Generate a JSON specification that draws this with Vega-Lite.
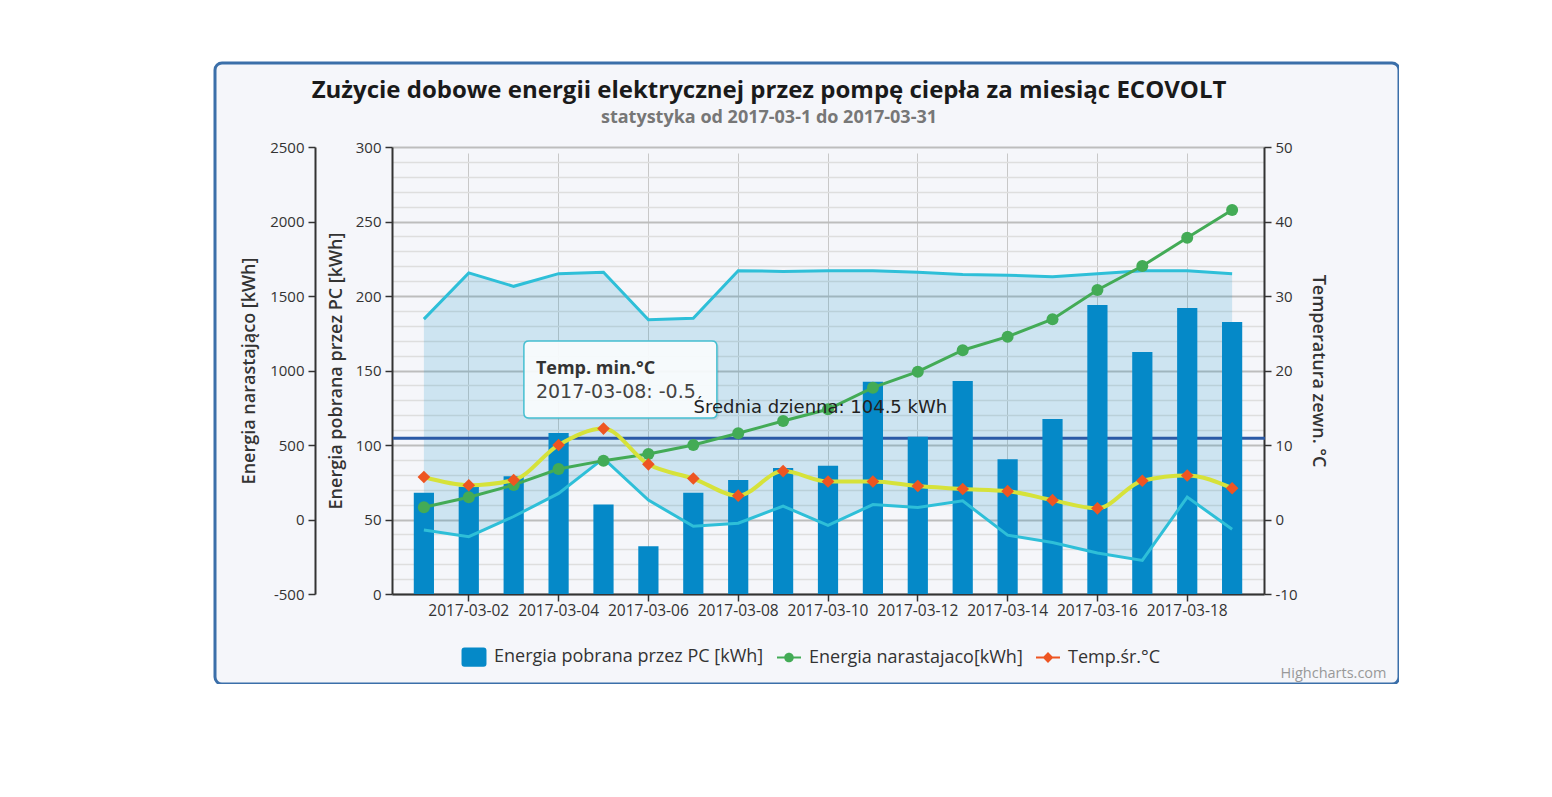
{
  "$schema": "https://vega.github.io/schema/vega-lite/v6.json",
  "width": 1184,
  "height": 621,
  "autosize": "none",
  "padding": {"left": 215, "top": 63, "right": 0, "bottom": 0},
  "background": "white",
  "title": {
    "text": "Zużycie dobowe energii elektrycznej przez pompę ciepła za miesiąc ECOVOLT",
    "subtitle": "statystyka od 2017-03-1 do 2017-03-31",
    "anchor": "middle",
    "frame": "group",
    "offset": -64,
    "dx": -38,
    "font": "Open Sans",
    "fontSize": 24,
    "fontWeight": "bold",
    "color": "#1a1a1a",
    "subtitleFont": "Open Sans",
    "subtitleFontSize": 18,
    "subtitleFontWeight": "bold",
    "subtitleColor": "#777777",
    "subtitlePadding": 6
  },
  "data": {
    "values": [
      {"date": "2017-03-01", "energy": 68, "cumul": 82, "tavg": 5.7, "tmin": -1.4, "tmax": 26.9},
      {"date": "2017-03-02", "energy": 72, "cumul": 149, "tavg": 4.6, "tmin": -2.3, "tmax": 33.1},
      {"date": "2017-03-03", "energy": 79, "cumul": 232, "tavg": 5.3, "tmin": 0.4, "tmax": 31.3},
      {"date": "2017-03-04", "energy": 108, "cumul": 339, "tavg": 10.0, "tmin": 3.5, "tmax": 33.0},
      {"date": "2017-03-05", "energy": 60, "cumul": 395, "tavg": 12.2, "tmin": 8.2, "tmax": 33.2},
      {"date": "2017-03-06", "energy": 32, "cumul": 440, "tavg": 7.4, "tmin": 2.6, "tmax": 26.8},
      {"date": "2017-03-07", "energy": 68, "cumul": 500, "tavg": 5.5, "tmin": -0.9, "tmax": 27.0},
      {"date": "2017-03-08", "energy": 76.5, "cumul": 579, "tavg": 3.2, "tmin": -0.5, "tmax": 33.4},
      {"date": "2017-03-09", "energy": 84.5, "cumul": 661, "tavg": 6.5, "tmin": 1.8, "tmax": 33.3},
      {"date": "2017-03-10", "energy": 86, "cumul": 740, "tavg": 5.1, "tmin": -0.8, "tmax": 33.4},
      {"date": "2017-03-11", "energy": 142.5, "cumul": 885, "tavg": 5.1, "tmin": 2.0, "tmax": 33.4},
      {"date": "2017-03-12", "energy": 105.5, "cumul": 992, "tavg": 4.5, "tmin": 1.6, "tmax": 33.2},
      {"date": "2017-03-13", "energy": 143, "cumul": 1136, "tavg": 4.1, "tmin": 2.5, "tmax": 32.9},
      {"date": "2017-03-14", "energy": 90.5, "cumul": 1227, "tavg": 3.8, "tmin": -2.1, "tmax": 32.8},
      {"date": "2017-03-15", "energy": 117.5, "cumul": 1344, "tavg": 2.6, "tmin": -3.1, "tmax": 32.6},
      {"date": "2017-03-16", "energy": 194, "cumul": 1540, "tavg": 1.5, "tmin": -4.5, "tmax": 33.0},
      {"date": "2017-03-17", "energy": 162.5, "cumul": 1701, "tavg": 5.2, "tmin": -5.5, "tmax": 33.4},
      {"date": "2017-03-18", "energy": 192, "cumul": 1891, "tavg": 5.9, "tmin": 3.0, "tmax": 33.4},
      {"date": "2017-03-19", "energy": 182.5, "cumul": 2077, "tavg": 4.2, "tmin": -1.3, "tmax": 33.0}
    ]
  },
  "encoding": {
    "x": {
      "field": "date",
      "type": "ordinal",
      "scale": {"type": "band", "range": [177, 1049], "paddingInner": 0.55, "paddingOuter": 0.485},
      "axis": {
        "orient": "bottom",
        "offset": -90,
        "values": ["2017-03-02", "2017-03-04", "2017-03-06", "2017-03-08", "2017-03-10", "2017-03-12", "2017-03-14", "2017-03-16", "2017-03-18"],
        "bandPosition": 0.5,
        "labelAngle": 0,
        "labelPadding": 2,
        "labelFontSize": 15.5,
        "tickSize": 7,
        "grid": true,
        "gridColor": "#c8c8c8",
        "gridWidth": 1,
        "title": "Highcharts.com",
        "titleX": 1171,
        "titleY": 83,
        "titleAlign": "right",
        "titleBaseline": "alphabetic",
        "titleFontWeight": "normal",
        "titleFontSize": 14.5,
        "titleColor": "#999999"
      }
    }
  },
  "layer": [
    {
      "mark": {"type": "area", "fill": "#0a8cc6", "fillOpacity": 0.17},
      "encoding": {
        "y": {"field": "tmax", "type": "quantitative", "scale": {"domain": [-10, 50], "range": [531, 84], "nice": false, "zero": false}, "axis": null},
        "y2": {"field": "tmin"}
      }
    },
    {
      "data": {"values": [{}]},
      "mark": {"type": "tick", "orient": "horizontal", "color": "#2b5aa6", "opacity": 1, "size": 872, "thickness": 3, "xOffset": 0.9},
      "encoding": {
        "x": {"datum": "2017-03-10", "type": "ordinal"},
        "y": {"datum": 104.5, "type": "quantitative", "scale": {"domain": [0, 300], "range": [531, 84], "nice": false, "zero": false}, "axis": null}
      }
    },
    {
      "mark": {"type": "bar"},
      "encoding": {
        "y": {
          "field": "energy",
          "type": "quantitative",
          "scale": {"domain": [0, 300], "range": [531, 84], "nice": false, "zero": false},
          "axis": {
            "orient": "left",
            "offset": -177,
            "values": [0, 10, 20, 30, 40, 50, 60, 70, 80, 90, 100, 110, 120, 130, 140, 150, 160, 170, 180, 190, 200, 210, 220, 230, 240, 250, 260, 270, 280, 290, 300],
            "labelExpr": "datum.value % 50 === 0 ? '' + datum.value : ''",
            "tickOpacity": {"condition": {"test": "datum.value % 50 === 0", "value": 1}, "value": 0},
            "grid": true,
            "gridColor": {"condition": {"test": "datum.value % 50 === 0", "value": "#bdbdbd"}, "value": "#dedede"},
            "gridWidth": {"condition": {"test": "datum.value % 50 === 0", "value": 2}, "value": 1.5},
            "title": "Energia pobrana przez PC [kWh]",
            "titlePadding": 10,
            "tickSize": 7,
            "labelPadding": 4
          }
        },
        "color": {
          "datum": "Energia pobrana przez PC [kWh]",
          "type": "nominal",
          "scale": {
            "domain": ["Energia pobrana przez PC [kWh]", "Energia narastajaco[kWh]", "Temp.śr.°C"],
            "range": ["#0589c8", "#43ab56", "#ee5522"]
          },
          "legend": {
            "orient": "none",
            "legendX": 247,
            "legendY": 582,
            "direction": "horizontal",
            "title": null,
            "labelFont": "Open Sans",
            "labelFontSize": 18,
            "labelColor": "#333333",
            "labelLimit": 400,
            "symbolSize": 576,
            "labelOffset": 8,
            "columnPadding": 13,
            "padding": 0,
            "symbolStrokeWidth": 0,
            "symbolOpacity": 1,
            "encode": {
              "symbols": {
                "update": {
                  "shape": {"signal": "datum.value === 'Energia pobrana przez PC [kWh]' ? 'M-0.79,-0.8H0.79Q1.04,-0.8 1.04,-0.55V0.55Q1.04,0.8 0.79,0.8H-0.79Q-1.04,0.8 -1.04,0.55V-0.55Q-1.04,-0.8 -0.79,-0.8Z' : datum.value === 'Energia narastajaco[kWh]' ? 'M-1,-0.09H1V0.09H-1Z M0.4,0A0.4,0.4 0 1,1 -0.4,0A0.4,0.4 0 1,1 0.4,0Z' : 'M-1,-0.09H1V0.09H-1Z M0,-0.45L0.45,0L0,0.45L-0.45,0Z'"}
                }
              }
            }
          }
        }
      }
    },
    {
      "mark": {"type": "line", "color": "#2ebfd8", "strokeWidth": 3},
      "encoding": {
        "y": {"field": "tmin", "type": "quantitative", "scale": {"domain": [-10, 50], "range": [531, 84], "nice": false, "zero": false}, "axis": null}
      }
    },
    {
      "mark": {"type": "line", "color": "#2ebfd8", "strokeWidth": 3},
      "encoding": {
        "y": {"field": "tmax", "type": "quantitative", "scale": {"domain": [-10, 50], "range": [531, 84], "nice": false, "zero": false}, "axis": null}
      }
    },
    {
      "mark": {"type": "line", "color": "#43ab56", "strokeWidth": 3, "point": {"filled": true, "size": 144, "color": "#43ab56", "opacity": 1}},
      "encoding": {
        "y": {
          "field": "cumul",
          "type": "quantitative",
          "scale": {"domain": [-500, 2500], "range": [531, 84], "nice": false, "zero": false},
          "axis": {
            "orient": "left",
            "offset": -100,
            "values": [-500, 0, 500, 1000, 1500, 2000, 2500],
            "labelExpr": "'' + datum.value",
            "grid": false,
            "title": "Energia narastająco [kWh]",
            "titlePadding": 11,
            "tickSize": 7,
            "labelPadding": 4
          }
        }
      }
    },
    {
      "mark": {"type": "line", "color": "#d6e23a", "strokeWidth": 4, "interpolate": "monotone"},
      "encoding": {
        "y": {
          "field": "tavg",
          "type": "quantitative",
          "scale": {"domain": [-10, 50], "range": [531, 84], "nice": false, "zero": false},
          "axis": {
            "orient": "right",
            "offset": -135,
            "values": [-10, 0, 10, 20, 30, 40, 50],
            "labelExpr": "'' + datum.value",
            "grid": false,
            "title": "Temperatura zewn. °C",
            "titlePadding": 12,
            "tickSize": 7,
            "labelPadding": 4
          }
        }
      }
    },
    {
      "mark": {"type": "point", "shape": "diamond", "filled": true, "color": "#ee5522", "size": 160, "opacity": 1},
      "encoding": {
        "y": {"field": "tavg", "type": "quantitative", "scale": {"domain": [-10, 50], "range": [531, 84], "nice": false, "zero": false}, "axis": null}
      }
    },
    {
      "data": {"values": [{}]},
      "mark": {"type": "point", "shape": "M-0.948,-0.399H0.948Q1,-0.399 1,-0.347V0.347Q1,0.399 0.948,0.399H-0.948Q-1,0.399 -1,0.347V-0.347Q-1,-0.399 -0.948,-0.399Z", "size": 37249, "filled": true, "fill": "#000000", "opacity": 0.08, "strokeWidth": 0, "xOffset": 18.9, "yOffset": 2},
      "encoding": {
        "x": {"datum": "2017-03-05", "type": "ordinal"},
        "y": {"datum": 144, "type": "quantitative", "scale": {"domain": [0, 300], "range": [531, 84], "nice": false, "zero": false}, "axis": null}
      }
    },
    {
      "data": {"values": [{}]},
      "mark": {"type": "point", "shape": "M-0.948,-0.399H0.948Q1,-0.399 1,-0.347V0.347Q1,0.399 0.948,0.399H-0.948Q-1,0.399 -1,0.347V-0.347Q-1,-0.399 -0.948,-0.399Z", "size": 37249, "filled": true, "fill": "#fbfdfe", "fillOpacity": 0.93, "stroke": "#45bfd1", "strokeWidth": 1.5, "opacity": 1, "xOffset": 16.9},
      "encoding": {
        "x": {"datum": "2017-03-05", "type": "ordinal"},
        "y": {"datum": 144, "type": "quantitative", "scale": {"domain": [0, 300], "range": [531, 84], "nice": false, "zero": false}, "axis": null}
      }
    },
    {
      "data": {"values": [{}]},
      "mark": {"type": "text", "text": "Temp. min.°C", "font": "Open Sans", "fontSize": 18, "fontWeight": "bold", "color": "#333333", "align": "left", "baseline": "alphabetic", "dx": -67.6},
      "encoding": {
        "x": {"datum": "2017-03-05", "type": "ordinal"},
        "y": {"datum": 147.7, "type": "quantitative", "scale": {"domain": [0, 300], "range": [531, 84], "nice": false, "zero": false}, "axis": null}
      }
    },
    {
      "data": {"values": [{}]},
      "mark": {"type": "text", "text": "2017-03-08: -0.5", "font": "DejaVu Sans", "fontSize": 19, "color": "#444444", "align": "left", "baseline": "alphabetic", "dx": -67.6},
      "encoding": {
        "x": {"datum": "2017-03-05", "type": "ordinal"},
        "y": {"datum": 131.3, "type": "quantitative", "scale": {"domain": [0, 300], "range": [531, 84], "nice": false, "zero": false}, "axis": null}
      }
    },
    {
      "data": {"values": [{}]},
      "mark": {"type": "text", "text": "Średnia dzienna: 104.5 kWh", "font": "DejaVu Sans", "fontSize": 18, "color": "#222222", "align": "center", "baseline": "alphabetic", "dx": -7.6, "dy": -25.3},
      "encoding": {
        "x": {"datum": "2017-03-10", "type": "ordinal"},
        "y": {"datum": 104.5, "type": "quantitative", "scale": {"domain": [0, 300], "range": [531, 84], "nice": false, "zero": false}, "axis": null}
      }
    }
  ],
  "resolve": {"scale": {"y": "independent"}, "axis": {"y": "independent"}},
  "config": {
    "view": {"stroke": "#3b6fa9", "strokeWidth": 3, "cornerRadius": 7, "fill": "#f5f6fa"},
    "font": "Open Sans",
    "axis": {
      "labelFont": "Open Sans",
      "labelFontSize": 15,
      "labelColor": "#333333",
      "titleFont": "Open Sans",
      "titleFontSize": 18,
      "titleFontWeight": 600,
      "titleColor": "#333333",
      "domainColor": "#333333",
      "domainWidth": 2,
      "tickColor": "#333333",
      "tickWidth": 1.5
    }
  }
}
